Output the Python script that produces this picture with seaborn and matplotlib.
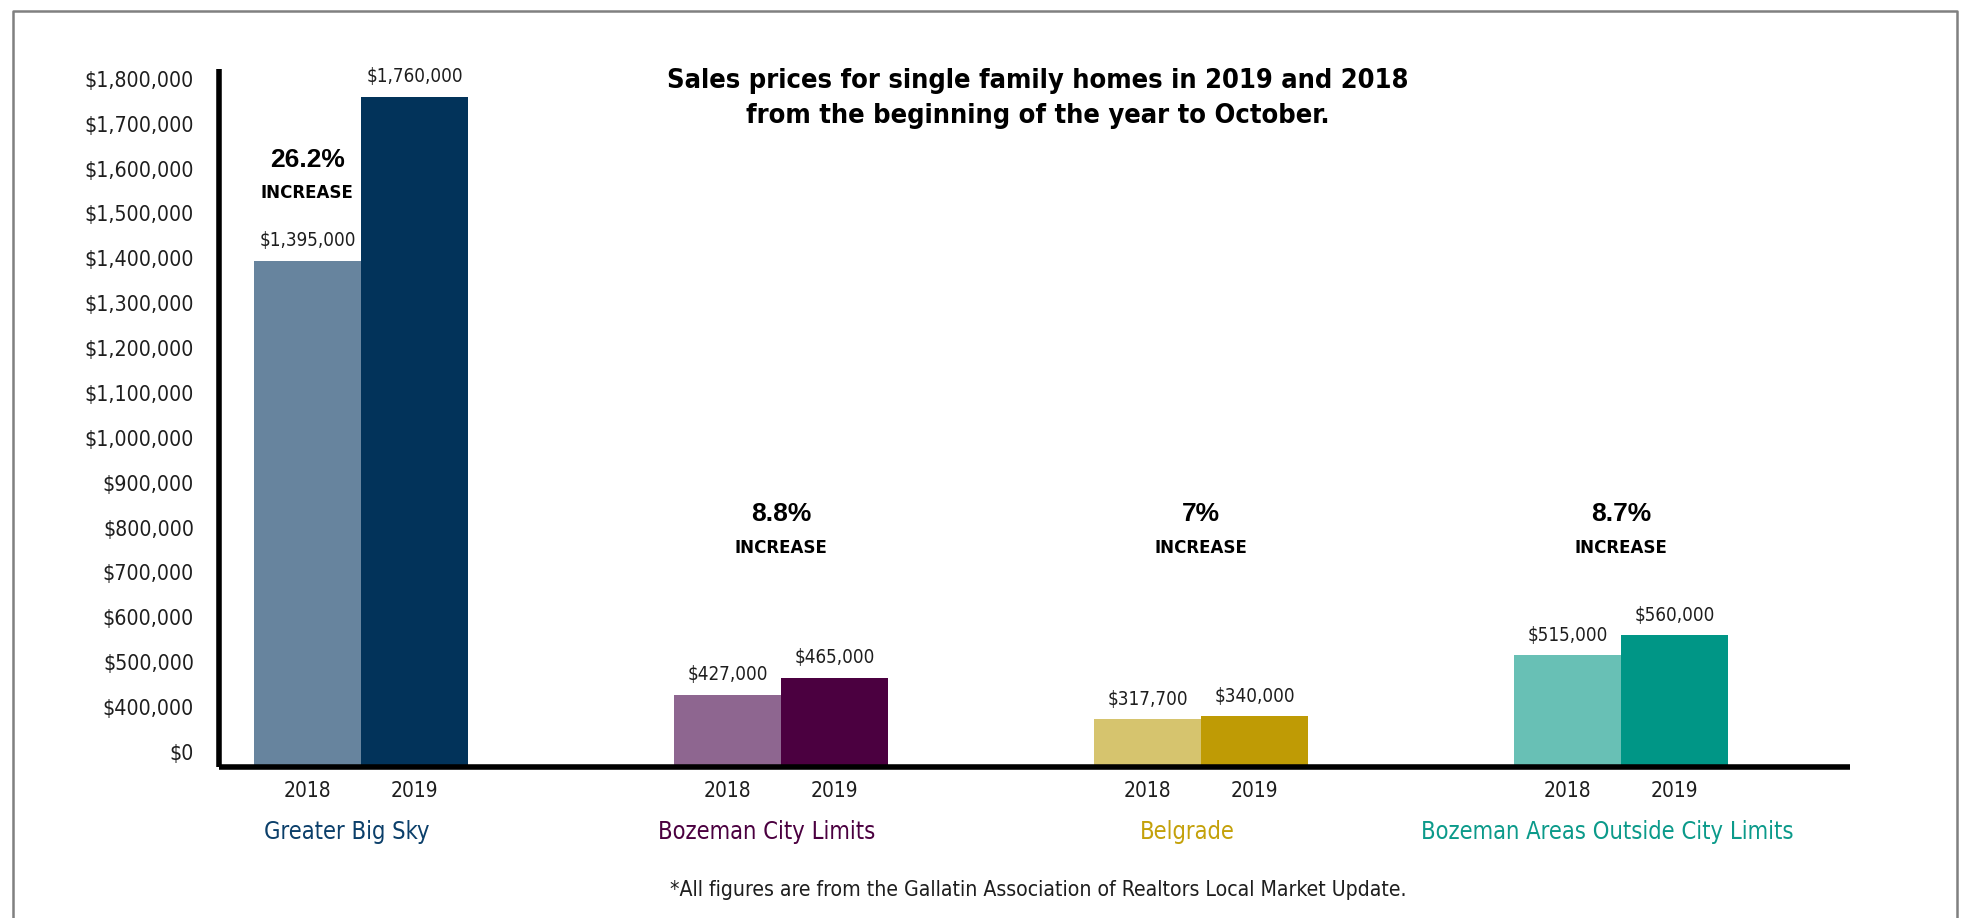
import os
import numpy as np
import pandas as pd
import seaborn as sns
import matplotlib.pyplot as plt
from matplotlib import font_manager as fm
from matplotlib.font_manager import FontProperties
from matplotlib.lines import Line2D
from matplotlib.transforms import ScaledTranslation, blended_transform_factory

# ---- data -------------------------------------------------------------
regions = ["Greater Big Sky", "Bozeman City Limits", "Belgrade",
           "Bozeman Areas Outside City Limits"]
years = ["2018", "2019"]
price_2018 = [1395000, 427000, 317700, 515000]
price_2019 = [1760000, 465000, 340000, 560000]
pct_increase = ["26.2%", "8.8%", "7%", "8.7%"]

color_2018 = ["#67849e", "#8e6690", "#d6c46e", "#68c0b5"]
color_2019 = ["#02335a", "#4b0040", "#bf9b05", "#009686"]
region_colors = ["#0b3f6a", "#4b0040", "#c4a10a", "#0b9a8a"]

tick_values = [0, 400000, 500000, 600000, 700000, 800000, 900000, 1000000,
               1100000, 1200000, 1300000, 1400000, 1500000, 1600000,
               1700000, 1800000]
tick_labels = ["$0", "$400,000", "$500,000", "$600,000", "$700,000",
               "$800,000", "$900,000", "$1,000,000", "$1,100,000",
               "$1,200,000", "$1,300,000", "$1,400,000", "$1,500,000",
               "$1,600,000", "$1,700,000", "$1,800,000"]

df = pd.DataFrame({
    "region": regions * 2,
    "year": [years[0]] * len(regions) + [years[1]] * len(regions),
    "price": price_2018 + price_2019,
})

# ---- fonts: prefer a condensed face when one is installed ----------------
sns.set_theme(style="white")
plt.rcParams["font.family"] = ["Liberation Sans", "DejaVu Sans"]

font_files = {os.path.basename(f.fname): f.fname for f in fm.fontManager.ttflist}


def pick(candidates):
    for c in candidates:
        if c in font_files:
            return FontProperties(fname=font_files[c])
    return None


narrow_reg = pick(["LiberationSansNarrow-Regular.ttf", "DejaVuSansCondensed.ttf",
                   "RobotoCondensed-Regular.ttf"])
narrow_bold = pick(["LiberationSansNarrow-Bold.ttf", "DejaVuSansCondensed-Bold.ttf",
                    "RobotoCondensed-Bold.ttf"])
CONDENSED = narrow_reg is not None and narrow_bold is not None
if not CONDENSED:
    narrow_reg = FontProperties(family=["Liberation Sans", "DejaVu Sans"])
    narrow_bold = FontProperties(family=["Liberation Sans", "DejaVu Sans"], weight="bold")
wide_bold = FontProperties(family=["Liberation Sans", "DejaVu Sans"], weight="bold")

# sizes shrink a little when only regular-width faces are present
k = 1.0 if CONDENSED else 0.85


def fp(base, size):
    p = base.copy()
    p.set_size(size * k)
    return p


TXT = "#1e1e1e"
W, H = 1966, 918
fig = plt.figure(figsize=(W / 100, H / 100), dpi=100)
fig.patch.set_facecolor("white")
ax = fig.add_axes([219 / W, 1 - 767 / H, (1850 - 219) / W, (767 - 69) / H])

# ---- bars -------------------------------------------------------------
sns.barplot(data=df, x="region", y="price", hue="year", order=regions,
            hue_order=years, width=0.51, gap=0, saturation=1,
            errorbar=None, legend=False, ax=ax)

for container, cols in zip(ax.containers, [color_2018, color_2019]):
    for bar, c in zip(container, cols):
        bar.set_facecolor(c)
        bar.set_edgecolor("none")

# broken value axis: $0 -> $400,000 in one short step, then $100,000 steps
BREAK, STEP, K0 = 400000, 100000, 1.337


def forward(v):
    v = np.asarray(v, dtype=float)
    return np.where(v <= BREAK, v / BREAK * K0, K0 + (v - BREAK) / STEP)


def inverse(s):
    s = np.asarray(s, dtype=float)
    return np.where(s <= K0, s / K0 * BREAK, BREAK + (s - K0) * STEP)


ax.set_yscale("function", functions=(forward, inverse))
ax.set_ylim(0, 1822000)
ax.set_xlim(-0.338, 3.545)
ax.set_yticks(tick_values)
ax.set_yticklabels(tick_labels)
ax.tick_params(axis="y", length=0, pad=18, labelcolor=TXT)
for lbl in ax.get_yticklabels():
    lbl.set_fontproperties(fp(narrow_reg, 15.3))
zero_lbl = ax.yaxis.get_major_ticks()[0].label1
zero_lbl.set_transform(zero_lbl.get_transform()
                       + ScaledTranslation(0, 15 / 100, fig.dpi_scale_trans))

# year labels under each bar
centers, year_lbls = [], []
for yr, container in zip(years, ax.containers):
    for bar in container:
        centers.append(bar.get_x() + bar.get_width() / 2)
        year_lbls.append(yr)
ax.set_xticks(centers)
ax.set_xticklabels(year_lbls)
ax.tick_params(axis="x", length=0, pad=10, labelcolor=TXT)
for lbl in ax.get_xticklabels():
    lbl.set_fontproperties(fp(narrow_reg, 15))
ax.set_xlabel("")
ax.set_ylabel("")

for side in ["top", "right"]:
    ax.spines[side].set_visible(False)
for side in ["left", "bottom"]:
    ax.spines[side].set_color("black")
    ax.spines[side].set_linewidth(4)
    ax.spines[side].set_capstyle("butt")
ax.grid(False)

# value labels above bars
for container, vals in zip(ax.containers, [price_2018, price_2019]):
    for bar, v in zip(container, vals):
        ax.annotate(f"${v:,.0f}", (bar.get_x() + bar.get_width() / 2, v),
                    xytext=(0, 14.4), textcoords="offset points",
                    ha="center", va="center", color=TXT,
                    fontproperties=fp(narrow_reg, 13.5))

# region names
for i, (name, c) in enumerate(zip(regions, region_colors)):
    ax.annotate(name, (i, 0), xytext=(-10, -46.5), textcoords="offset points",
                ha="center", va="center", color=c, annotation_clip=False,
                fontproperties=fp(narrow_reg, 17))

# percentage increase callouts
blend = blended_transform_factory(ax.transData, ax.transAxes)
first_2018 = ax.containers[0][0]
for i, pct in enumerate(pct_increase):
    if i == 0:
        x = first_2018.get_x() + first_2018.get_width() / 2
        y_pct, y_inc = 0.8696, 0.822
    else:
        x = i
        y_pct, y_inc = 0.3625, 0.3138
    ax.text(x, y_pct, pct, transform=blend, ha="center", va="center",
            color="black", fontproperties=fp(wide_bold, 19 / k))
    ax.text(x, y_inc, "INCREASE", transform=blend, ha="center", va="center",
            color="black", fontproperties=fp(narrow_bold, 13.3))

# title and source note
fig.text(1038 / W, 1 - 98.5 / H,
         "Sales prices for single family homes in 2019 and 2018\n"
         "from the beginning of the year to October.",
         ha="center", va="center", linespacing=1.45, color="black",
         fontproperties=fp(narrow_bold, 19.5))
fig.text(1038 / W, 1 - 890 / H,
         "*All figures are from the Gallatin Association of Realtors Local Market Update.",
         ha="center", va="center", color=TXT, fontproperties=fp(narrow_reg, 15.2))

# outer frame
fig.add_artist(Line2D([13 / W, 13 / W, 1957 / W, 1957 / W],
                      [0, 1 - 11 / H, 1 - 11 / H, 0],
                      transform=fig.transFigure, color="#808080", lw=1.8))

fig.savefig("out.png", dpi=100, facecolor="white")
